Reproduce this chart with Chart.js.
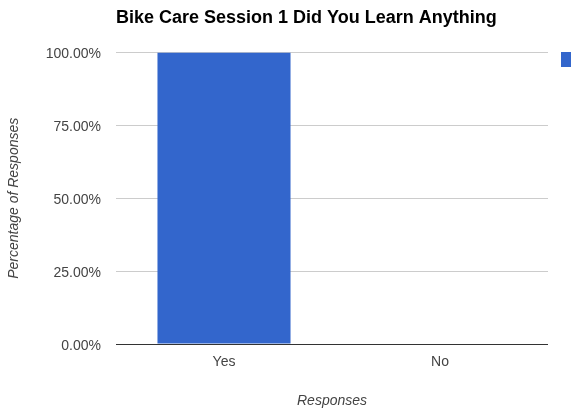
<!DOCTYPE html>
<html>
<head>
<meta charset="utf-8">
<script src="https://cdn.jsdelivr.net/npm/chart.js@4/dist/chart.umd.min.js"></script>
<style>
html,body{margin:0;padding:0;background:#fff;overflow:hidden;}
#wrap{width:571px;height:414px;position:relative;}
</style>
</head>
<body>
<div id="wrap"><canvas id="c" width="571" height="414"></canvas></div>
<script>
const chartTitle = 'Bike Care Session 1 Did You Learn Anything';
const categories = ['Yes', 'No'];
const seriesName = 'Percentage of Responses';
const seriesValues = [100, 0];
const yTickValues = [0, 25, 50, 75, 100];
const xAxisTitle = 'Responses';
const yAxisTitle = 'Percentage of Responses';

const FONT = 'Arial, "Liberation Sans", sans-serif';

new Chart(document.getElementById('c'), {
  type: 'bar',
  data: {
    labels: categories,
    datasets: [{
      label: seriesName,
      data: seriesValues,
      backgroundColor: '#3366cc',
      borderColor: '#3366cc',
      borderWidth: 0,
      categoryPercentage: 1,
      barPercentage: 0.616
    }]
  },
  options: {
    responsive: false,
    animation: false,
    layout: { padding: 0 },
    plugins: {
      title: {
        display: true,
        text: chartTitle,
        align: 'start',
        fullSize: false,
        color: '#000',
        font: { family: FONT, size: 18, weight: 'bold', lineHeight: 1.2 },
        padding: { top: 7, bottom: 24 }
      },
      legend: {
        display: true,
        position: 'right',
        align: 'start',
        fullSize: true,
        maxWidth: 23,
        title: {
          display: true,
          text: '',
          font: { size: 10, lineHeight: 1 },
          padding: { top: 29, bottom: 0 }
        },
        labels: {
          boxWidth: 15,
          boxHeight: 15,
          padding: 13,
          color: '#222',
          font: { family: FONT, size: 14 }
        }
      },
      tooltip: { enabled: false }
    },
    scales: {
      x: {
        grid: { display: false, drawTicks: false },
        border: { display: false },
        ticks: {
          color: '#444',
          padding: 10,
          font: { family: FONT, size: 14 }
        },
        title: {
          display: true,
          text: xAxisTitle,
          color: '#444',
          font: { family: FONT, size: 14, style: 'italic', lineHeight: 1.2 },
          padding: { top: 4, bottom: 4 }
        },
        afterFit: (s) => { s.height = 70; }
      },
      y: {
        min: 0,
        max: 100,
        afterBuildTicks: (s) => { s.ticks = yTickValues.map(v => ({ value: v })); },
        grid: {
          drawTicks: false,
          color: (ctx) => (ctx.tick && ctx.tick.value === 0) ? '#333' : '#cccccc',
          lineWidth: 1
        },
        border: { display: false },
        ticks: {
          color: '#444',
          padding: 15,
          labelOffset: 2,
          font: { family: FONT, size: 14 },
          callback: (v) => Number(v).toFixed(2) + '%'
        },
        title: {
          display: true,
          text: yAxisTitle,
          color: '#444',
          font: { family: FONT, size: 14, style: 'italic', lineHeight: 1.2 },
          padding: { top: 6, bottom: 6 }
        },
        afterFit: (s) => { s.width = 116; }
      }
    }
  }
});
</script>
</body>
</html>
